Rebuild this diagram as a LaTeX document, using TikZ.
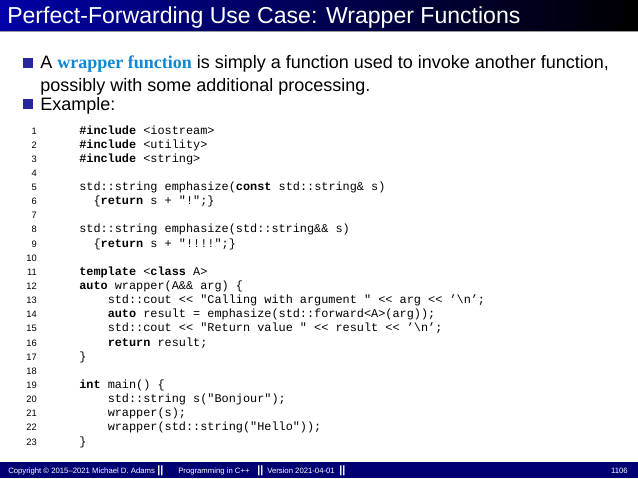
\documentclass[tikz,border=0pt]{standalone}
\usepackage{fontspec}
\setmainfont{Liberation Sans}
\newfontfamily\codefont{Liberation Mono}
\begin{document}
\begin{tikzpicture}[x=0.75pt,y=-0.75pt,
  code/.style={anchor=base west,inner sep=0pt,font=\codefont\fontsize{8.9}{10}\selectfont},
  lnum/.style={anchor=base east,inner sep=0pt,font=\fontsize{7}{8}\selectfont},
  body/.style={anchor=base west,inner sep=0pt,font=\fontsize{13.5}{16}\selectfont},
  foot/.style={anchor=base west,inner sep=0pt,text=white,font=\fontsize{5.8}{7}\selectfont},
  bul/.style={fill=blue!55!black!85,minimum size=7pt,inner sep=0pt}]
\useasboundingbox (0,0) rectangle (638,478);
\fill[white] (0,0) rectangle (638,478);
\shade[left color=blue!65!black,right color=black] (0,0) rectangle (638,31);
\fill[black!40] (0,31) rectangle (638,32);
\node[anchor=base west,inner sep=0pt,text=white,font=\fontsize{17.3}{20}\selectfont] (title) at (7,24) {Perfect-Forwarding Use Case: Wrapper Functions};
\node[bul] (b1) at (28,63) {};
\node[body] (t1) at (40,69) {A \textcolor{cyan!70!blue}{\fontspec{Liberation Serif}\bfseries wrapper function} is simply a function used to invoke another function,};
\node[body] (t2) at (40,91) {possibly with some additional processing.};
\node[bul] (b2) at (28,104) {};
\node[body] (t3) at (40,110) {Example:};
\def\L#1#2{\node[lnum] (n#1) at (37,{130+(#1-1)*14.14+4}) {#1};
  \node[code] (c#1) at (79,{130+(#1-1)*14.14+4}) {#2};}
\def\K#1{\textbf{#1}}
\L{1}{\K{\#include} <iostream>}
\L{2}{\K{\#include} <utility>}
\L{3}{\K{\#include} <string>}
\L{4}{}
\L{5}{std::string emphasize(\K{const} std::string\& s)}
\L{6}{\ \ \{\K{return} s + "!";\}}
\L{7}{}
\L{8}{std::string emphasize(std::string\&\& s)}
\L{9}{\ \ \{\K{return} s + "!!!!";\}}
\L{10}{}
\L{11}{\K{template} <\K{class} A>}
\L{12}{\K{auto} wrapper(A\&\& arg) \{}
\L{13}{\ \ \ \ std::cout << "Calling with argument " << arg << ’\textbackslash n’;}
\L{14}{\ \ \ \ \K{auto} result = emphasize(std::forward<A>(arg));}
\L{15}{\ \ \ \ std::cout << "Return value " << result << ’\textbackslash n’;}
\L{16}{\ \ \ \ \K{return} result;}
\L{17}{\}}
\L{18}{}
\L{19}{\K{int} main() \{}
\L{20}{\ \ \ \ std::string s("Bonjour");}
\L{21}{\ \ \ \ wrapper(s);}
\L{22}{\ \ \ \ wrapper(std::string("Hello"));}
\L{23}{\}}
\fill[blue!45!black] (0,462) rectangle (638,478);
\node[foot] (f1) at (8,473) {Copyright \textcopyright\ 2015--2021 Michael D. Adams};
\node[foot,font=\fontsize{8}{8}\selectfont\bfseries] (s1) at (157,473.5) {||};
\node[foot] (f2) at (178,473) {Programming in C++};
\node[foot,font=\fontsize{8}{8}\selectfont\bfseries] (s2) at (257,473.5) {||};
\node[foot] (f3) at (267,473) {Version 2021-04-01};
\node[foot,font=\fontsize{8}{8}\selectfont\bfseries] (s3) at (339,473.5) {||};
\node[anchor=base east,inner sep=0pt,text=white,font=\fontsize{5.8}{7}\selectfont] (page) at (628,473) {1106};
\end{tikzpicture}
\end{document}
